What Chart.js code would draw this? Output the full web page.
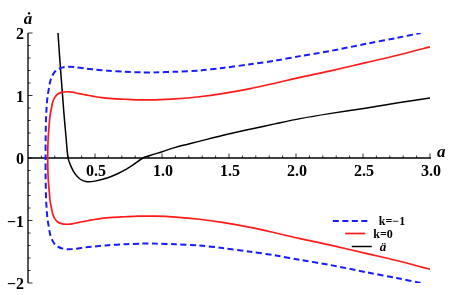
<!DOCTYPE html>
<html>
<head>
<meta charset="utf-8">
<script src="https://cdn.jsdelivr.net/npm/chart.js@4.4.0/dist/chart.umd.min.js"></script>
<style>
  html, body { margin: 0; padding: 0; background: #ffffff; }
  #wrap { width: 449px; height: 295px; }
</style>
</head>
<body>
<div id="wrap"><canvas id="plot" width="449" height="295"></canvas></div>
<script>
// tick labels
const xTicks = [0.5, 1.0, 1.5, 2.0, 2.5, 3.0];
const xTickLabels = ['0.5', '1.0', '1.5', '2.0', '2.5', '3.0'];
const yTicks = [-2, -1, 0, 1, 2];
const yTickLabels = ['\u22122', '\u22121', '0', '1', '2'];

// k = -1 (blue dashed), upper and lower branches
const kMinusA = [0.131, 0.1315, 0.133, 0.135, 0.138, 0.142, 0.147, 0.155, 0.165, 0.18, 0.2, 0.224, 0.26, 0.3, 0.35, 0.43, 0.5, 0.6, 0.72, 0.85, 0.95, 1.1, 1.28, 1.45, 1.66, 1.85, 2.03, 2.25, 2.53, 2.75, 2.93];
const kMinusUpper = [0, 0.3, 0.5, 0.66, 0.78, 0.9, 1.0, 1.1, 1.22, 1.31, 1.38, 1.42, 1.45, 1.46, 1.455, 1.43, 1.415, 1.395, 1.38, 1.37, 1.37, 1.38, 1.4, 1.44, 1.5, 1.56, 1.63, 1.71, 1.83, 1.92, 2.0];
const kMinusLower = [0, -0.3, -0.5, -0.66, -0.78, -0.9, -1.0, -1.1, -1.22, -1.31, -1.38, -1.42, -1.45, -1.46, -1.455, -1.43, -1.415, -1.395, -1.38, -1.37, -1.37, -1.38, -1.4, -1.44, -1.5, -1.56, -1.63, -1.71, -1.83, -1.92, -2.0];

// k = 0 (red)
const kZeroA = [0.147, 0.15, 0.155, 0.16, 0.165, 0.175, 0.185, 0.2, 0.22, 0.25, 0.29, 0.33, 0.38, 0.43, 0.48, 0.55, 0.63, 0.72, 0.82, 0.95, 1.1, 1.28, 1.45, 1.66, 1.85, 2.03, 2.25, 2.53, 2.75, 3.0];
const kZeroUpper = [0, 0.3, 0.45, 0.58, 0.69, 0.8, 0.9, 0.97, 1.02, 1.05, 1.06, 1.055, 1.03, 1.01, 0.99, 0.965, 0.95, 0.94, 0.93, 0.93, 0.945, 0.98, 1.03, 1.11, 1.2, 1.29, 1.39, 1.53, 1.64, 1.78];
const kZeroLower = [0, -0.3, -0.45, -0.58, -0.69, -0.8, -0.9, -0.97, -1.02, -1.05, -1.06, -1.055, -1.03, -1.01, -0.99, -0.965, -0.95, -0.94, -0.93, -0.93, -0.945, -0.98, -1.03, -1.11, -1.2, -1.29, -1.39, -1.53, -1.64, -1.78];

// acceleration (black)
const accelA = [0.224, 0.235, 0.247, 0.258, 0.269, 0.284, 0.299, 0.32, 0.35, 0.39, 0.44, 0.5, 0.59, 0.66, 0.724, 0.79, 0.858, 0.91, 1.0, 1.1, 1.284, 1.45, 1.657, 1.85, 2.03, 2.25, 2.53, 2.75, 3.0];
const accel = [2.0, 1.65, 1.3, 1.0, 0.69, 0.33, 0, -0.13, -0.25, -0.34, -0.38, -0.37, -0.32, -0.26, -0.19, -0.1, 0, 0.04, 0.1, 0.17, 0.27, 0.36, 0.46, 0.55, 0.63, 0.71, 0.8, 0.88, 0.96];

// one closed path: lower branch right-to-left, then upper branch left-to-right
function branchPath(xs, lower, upper) {
  const pts = [];
  for (let i = xs.length - 1; i > 0; i--) pts.push({ x: xs[i], y: lower[i] });
  for (let i = 0; i < xs.length; i++) pts.push({ x: xs[i], y: upper[i] });
  return pts;
}

const serif = "'Liberation Serif', 'DejaVu Serif', serif";

// Mathematica-style axes through the origin, ticks pointing inward
const axesPlugin = {
  id: 'axes',
  beforeDatasetsDraw(chart) {
    const ctx = chart.ctx;
    const xs = chart.scales.x, ys = chart.scales.y;
    const y0 = ys.getPixelForValue(0);
    const x0 = xs.getPixelForValue(0);
    ctx.save();
    ctx.strokeStyle = '#000';
    ctx.lineWidth = 1.3;
    ctx.beginPath();
    ctx.moveTo(x0, y0); ctx.lineTo(xs.getPixelForValue(3.0) + 1, y0);
    ctx.moveTo(x0, ys.getPixelForValue(-2)); ctx.lineTo(x0, ys.getPixelForValue(2));
    ctx.stroke();

    ctx.lineWidth = 0.8;
    ctx.beginPath();
    for (let i = 1; i <= 30; i++) {
      const px = xs.getPixelForValue(i / 10);
      const len = i % 5 === 0 ? 4.5 : 2.5;
      ctx.moveTo(px, y0); ctx.lineTo(px, y0 - len);
    }
    for (let i = -10; i <= 10; i++) {
      const py = ys.getPixelForValue(i / 5);
      const len = i % 5 === 0 ? 4.5 : 2.5;
      ctx.moveTo(x0, py); ctx.lineTo(x0 + len, py);
    }
    ctx.stroke();

    ctx.fillStyle = '#000';
    ctx.font = 'bold 16px ' + serif;
    ctx.textAlign = 'center';
    ctx.textBaseline = 'alphabetic';
    xTicks.forEach((v, i) => {
      ctx.fillText(xTickLabels[i], xs.getPixelForValue(v) + 1, y0 + 18);
    });
    ctx.textAlign = 'right';
    ctx.textBaseline = 'middle';
    yTicks.forEach((v, i) => {
      ctx.fillText(yTickLabels[i], x0 - 4, ys.getPixelForValue(v) + 2);
    });

    ctx.font = 'italic bold 17px ' + serif;
    ctx.textAlign = 'center';
    ctx.textBaseline = 'alphabetic';
    ctx.fillText('\u0227', x0, 24);
    ctx.textAlign = 'left';
    ctx.fillText('a', xs.getPixelForValue(3.0) + 7, y0 - 1);
    ctx.restore();
  }
};

// legend rows centred on one column, bottom right
const legendPlugin = {
  id: 'curveLegend',
  afterDraw(chart) {
    const ctx = chart.ctx;
    const cx = 369;
    const rows = [221, 233.5, 246.5];
    ctx.save();
    ctx.font = 'bold 12px ' + serif;
    ctx.textBaseline = 'middle';
    ctx.textAlign = 'left';
    chart.data.datasets.forEach((ds, i) => {
      const dashed = ds.borderDash && ds.borderDash.length;
      const lineLen = dashed ? 38 : 20;
      const gap = 8;
      let label = ds.label;
      if (i === 2) ctx.font = 'italic bold 13px ' + serif;
      const w = lineLen + gap + ctx.measureText(label).width;
      const x = cx - w / 2;
      const y = rows[i];
      ctx.strokeStyle = ds.borderColor;
      ctx.lineWidth = ds.borderWidth;
      ctx.setLineDash(dashed ? ds.borderDash : []);
      ctx.beginPath();
      ctx.moveTo(x, y); ctx.lineTo(x + lineLen, y);
      ctx.stroke();
      ctx.setLineDash([]);
      ctx.fillStyle = '#000';
      ctx.fillText(label, x + lineLen + gap, y + 1);
    });
    ctx.restore();
  }
};

new Chart(document.getElementById('plot'), {
  type: 'scatter',
  data: {
    datasets: [
      {
        label: 'k=\u22121',
        data: branchPath(kMinusA, kMinusLower, kMinusUpper),
        showLine: true,
        borderColor: '#1a1aff',
        borderWidth: 2,
        borderDash: [6, 3.5],
        pointRadius: 0,
        tension: 0.3
      },
      {
        label: 'k=0',
        data: branchPath(kZeroA, kZeroLower, kZeroUpper),
        showLine: true,
        borderColor: '#ff1a1a',
        borderWidth: 1.7,
        pointRadius: 0,
        tension: 0.3
      },
      {
        label: '\u00e4',
        data: accelA.map((a, i) => ({ x: a, y: accel[i] })),
        showLine: true,
        borderColor: '#000000',
        borderWidth: 1.5,
        pointRadius: 0,
        tension: 0.3
      }
    ]
  },
  options: {
    responsive: false,
    animation: false,
    layout: { padding: { left: 28, right: 19, top: 33, bottom: 12 } },
    plugins: { legend: { display: false }, tooltip: { enabled: false } },
    scales: {
      x: { type: 'linear', min: 0, max: 3, display: false },
      y: { type: 'linear', min: -2, max: 2, display: false }
    }
  },
  plugins: [axesPlugin, legendPlugin]
});
</script>
</body>
</html>
